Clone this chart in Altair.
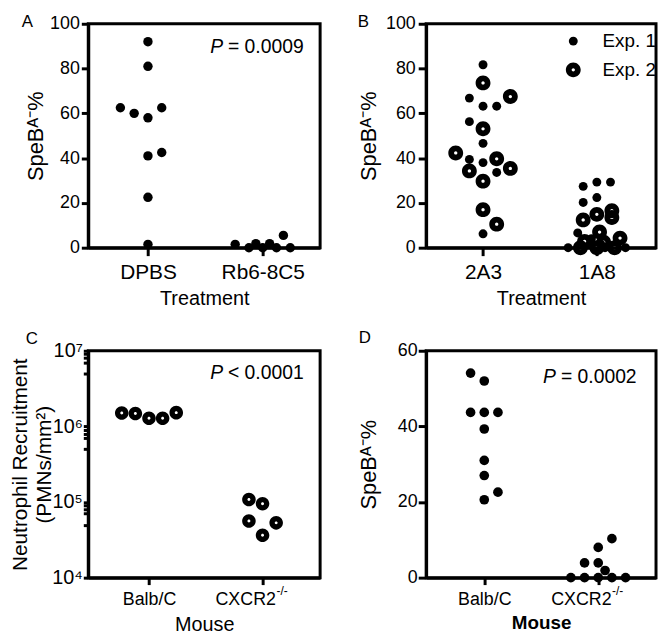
import altair as alt
import pandas as pd

FONT = "Liberation Sans"
SLOT = 0.12  # horizontal step between neighbouring dots, in category units

# ---------------- Panel A ----------------
a_cats = ["DPBS", "Rb6-8C5"]
a_group = ["DPBS"] * 10 + ["Rb6-8C5"] * 8
a_value = [92, 81, 62.5, 60, 58, 62.5, 41, 42.5, 22.5, 1.5,
           1.5, 0, 1.8, 0, 1.8, 0, 5.5, 0]
a_slot = [0, 0, -2, -1, 0, 1, 0, 1, 0, 0,
          -2, -1, -0.5, 0, 0.5, 1, 1.5, 2]
a_yticks = [0, 20, 40, 60, 80, 100]
a_ytitle = "SpeBᴬ⁻%"
a_xtitle = "Treatment"
a_p = ["P", "= 0.0009"]

# ---------------- Panel B ----------------
b_cats = ["2A3", "1A8"]
b_exps = ["Exp. 1", "Exp. 2"]
b_exp1_group = ["2A3"] * 10 + ["1A8"] * 11
b_exp1_value = [81.7, 66.8, 63.2, 63.2, 56.3, 46.6, 39.4, 38.0, 33.6, 6.2,
                29.3, 29.3, 27.4, 22.4, 20.2, 6.6, 0, 0, 4, 1.5, 0]
b_exp1_slot = [0, -1, 0, 1, -1, 0, -1, 0, 1, 0,
               0, 1, -1, 0, -1, -1.4, -2.1, 2.1, -0.4, 0.3, 0.6]
b_exp2_group = ["2A3"] * 10 + ["1A8"] * 11
b_exp2_value = [73.6, 67.5, 53.1, 42.3, 39.7, 35.4, 34.3, 29.7, 17.0, 10.5,
                16.5, 13.5, 14.9, 12.4, 7, 4.3, 2.8, 2.5, 0, 0, 0]
b_exp2_slot = [0, 2, 0, -2, 1, 2, -1, 0, 0, 1,
               1.1, 1.1, 0, -1, 0.2, 1.7, -0.9, 0.5, -1.2, 0, 1.3]
b_yticks = [0, 20, 40, 60, 80, 100]
b_ytitle = "SpeBᴬ⁻%"
b_xtitle = "Treatment"

# ---------------- Panel C ----------------
c_cats = ["Balb/C", "CXCR2"]
c_sup = "-/-"
c_group = ["Balb/C"] * 5 + ["CXCR2"] * 5
c_value = [1.50e6, 1.48e6, 1.28e6, 1.28e6, 1.52e6,
           1.08e5, 9.5e4, 5.6e4, 5.3e4, 3.64e4]
c_slot = [-2, -1, 0, 1, 2,
          -1, 0, -1, 1, 0]
c_major = [1e4, 1e5, 1e6, 1e7]
c_major_labels = ["10⁴", "10⁵", "10⁶", "10⁷"]
c_minor = [5e4, 7e4, 8e4, 9e4, 5e5, 7e5, 8e5, 9e5, 5e6, 7e6, 8e6, 9e6]
c_ytitle = ["Neutrophil Recruitment", "(PMNs/mm²)"]
c_xtitle = "Mouse"
c_p = ["P", "< 0.0001"]

# ---------------- Panel D ----------------
d_cats = ["Balb/C", "CXCR2"]
d_sup = "-/-"
d_group = ["Balb/C"] * 10 + ["CXCR2"] * 10
d_value = [54.1, 52.0, 43.7, 43.7, 43.7, 39.3, 31.0, 27.0, 22.6, 20.6,
           0, 0, 0, 0, 0, 3.9, 3.9, 1.9, 8.0, 10.3]
d_slot = [-1, 0, -1, 0, 1, 0, 0, 0, 1, 0,
          -2, -1, 0, 1, 2, -1, 0, 0.5, 0, 1]
d_yticks = [0, 20, 40, 60]
d_ytitle = "SpeBᴬ⁻%"
d_xtitle = "Mouse"
d_p = ["P", "= 0.0002"]

letters = ["A", "B", "C", "D"]

# layout (pixels)
W1, W2 = 234, 232
H1, H2 = 226, 229
COLSP, ROWSP = 107, 104

# ring symbol: unit circle with a small hole (opposite winding)
RING = ("M1,0C1,0.5523,0.5523,1,0,1C-0.5523,1,-1,0.5523,-1,0"
        "C-1,-0.5523,-0.5523,-1,0,-1C0.5523,-1,1,-0.5523,1,0Z"
        "M0.22,0C0.22,-0.1215,0.1215,-0.22,0,-0.22C-0.1215,-0.22,-0.22,-0.1215,-0.22,0"
        "C-0.22,0.1215,-0.1215,0.22,0,0.22C0.1215,0.22,0.22,0.1215,0.22,0Z")


def make_df(groups, values, slots, cats, exp=None):
    df = pd.DataFrame({"group": groups, "value": values, "slot": slots})
    df["pos"] = [cats.index(g) + 1 for g in groups]
    if exp is not None:
        df["exp"] = exp
    return df


def label_expr(cats):
    return f"datum.value == 1 ? '{cats[0]}' : '{cats[1]}'"


def text_layer(text, x, y, size=19.5, style="normal", weight="normal", align="left", baseline="middle"):
    return alt.Chart(alt.Data(values=[{"t": text}])).mark_text(
        font=FONT, fontSize=size, fontStyle=style, fontWeight=weight, align=align,
        baseline=baseline, color="black"
    ).encode(text="t:N", x=alt.value(x), y=alt.value(y))


def pvalue(parts, x, y):
    return [text_layer(parts[0], x, y, style="italic"),
            text_layer(parts[1], x + 18, y)]


calc = f"datum.pos + datum.slot * {SLOT}"

# ---------- A ----------
dfA = make_df(a_group, a_value, a_slot, a_cats)
xA = alt.X("xpos:Q", scale=alt.Scale(domain=[0.48, 2.5], nice=False, zero=False),
           axis=alt.Axis(values=[1, 2], labelExpr=label_expr(a_cats), title=a_xtitle,
                         tickSize=8, labelPadding=6, titlePadding=6, labelOverlap=False,
                         labelFontSize=21))
yA = alt.Y("value:Q", scale=alt.Scale(domain=[0, 100], nice=False, zero=False),
           axis=alt.Axis(values=a_yticks, title=a_ytitle, tickSize=7, labelPadding=2,
                         minExtent=38, maxExtent=38, titlePadding=3, labelOverlap=False,
                         titleFontSize=22))
ptsA = alt.Chart(dfA).transform_calculate(xpos=calc).mark_point(
    shape="circle", filled=True, size=90, color="black", opacity=1).encode(x=xA, y=yA)
panelA = alt.layer(ptsA, *pvalue(a_p, 123, 23),
                   text_layer(letters[0], -67, -10, size=17, baseline="top")).properties(width=W1, height=H1)

# ---------- B ----------
dfB = pd.concat([
    make_df(b_exp1_group, b_exp1_value, b_exp1_slot, b_cats, exp="Exp. 1"),
    make_df(b_exp2_group, b_exp2_value, b_exp2_slot, b_cats, exp="Exp. 2"),
], ignore_index=True)
# legends of a concatenated chart are placed relative to the first panel's origin
legB = alt.Legend(
    title=None, orient="none", legendX=W1 + COLSP + 139, legendY=8, labelFont=FONT,
    labelFontSize=19, labelColor="black", labelOffset=20, rowPadding=9,
    symbolFillColor="black", symbolStrokeWidth=0)
xB = alt.X("xpos:Q", scale=alt.Scale(domain=[0.5, 2.52], nice=False, zero=False),
           axis=alt.Axis(values=[1, 2], labelExpr=label_expr(b_cats), title=b_xtitle,
                         tickSize=8, labelPadding=6, titlePadding=6, labelOverlap=False,
                         labelFontSize=21))
yB = alt.Y("value:Q", scale=alt.Scale(domain=[0, 100], nice=False, zero=False),
           axis=alt.Axis(values=b_yticks, title=b_ytitle, tickSize=8, labelPadding=3,
                         minExtent=41, maxExtent=41, titlePadding=5, labelOverlap=False,
                         titleFontSize=22))
ptsB = alt.Chart(dfB).transform_calculate(xpos=calc).mark_point(
    filled=True, color="black", opacity=1, strokeWidth=0).encode(
    x=xB, y=yB,
    shape=alt.Shape("exp:N", scale=alt.Scale(domain=b_exps, range=["circle", RING]), legend=legB),
    size=alt.Size("exp:N", scale=alt.Scale(domain=b_exps, range=[81, 225]), legend=legB),
)
panelB = alt.layer(ptsB, text_layer(letters[1], -69, -10, size=17, baseline="top")).properties(width=W2, height=H1)

# ---------- C ----------
dfC = make_df(c_group, c_value, c_slot, c_cats)
c_expr = " : ".join(f"datum.value == {v:g} ? '{l}'" for v, l in zip(c_major, c_major_labels)) + " : ''"
cond_align = {"condition": {"test": "datum.value == 2", "value": "right"}, "value": "center"}
cond_off = {"condition": {"test": "datum.value == 2", "value": 13}, "value": 0}
xC = alt.X("xpos:Q", scale=alt.Scale(domain=[0.465, 2.507], nice=False, zero=False),
           axis=alt.Axis(values=[1, 2], labelExpr=label_expr(c_cats), title=c_xtitle,
                         tickSize=7, labelPadding=6, titlePadding=6, labelOverlap=False,
                         labelAlign=cond_align, labelOffset=cond_off))
yC = alt.Y("value:Q", scale=alt.Scale(type="log", domain=[1e4, 1e7], nice=False),
           axis=alt.Axis(values=sorted(c_major + c_minor), labelExpr=c_expr, title=c_ytitle,
                         tickSize=5, labelPadding=1, minExtent=33, maxExtent=33, titlePadding=1,
                         titleLineHeight=24, labelOverlap=False, labelFontSize=20,
                         titleFontSize=21))
ptsC = alt.Chart(dfC).transform_calculate(xpos=calc).mark_point(
    shape=RING, filled=True, color="black", strokeWidth=0, size=187, opacity=1).encode(x=xC, y=yC)
supC = alt.Chart(pd.DataFrame({"pos": [2], "t": [c_sup]})).mark_text(
    font=FONT, fontSize=12, align="left", baseline="top", dx=14, color="black").encode(
    x="pos:Q", y=alt.value(H2 + 9), text="t:N")
panelC = alt.layer(ptsC, supC, *pvalue(c_p, 123, 23),
                   text_layer(letters[2], -63, -20, size=17, baseline="top")).properties(width=W1, height=H2)

# ---------- D ----------
dfD = make_df(d_group, d_value, d_slot, d_cats)
xD = alt.X("xpos:Q", scale=alt.Scale(domain=[0.49, 2.507], nice=False, zero=False),
           axis=alt.Axis(values=[1, 2], labelExpr=label_expr(d_cats), title=d_xtitle,
                         tickSize=7, labelPadding=6, titlePadding=5, labelOverlap=False,
                         titleFontWeight="bold", titleFontSize=19,
                         labelAlign=cond_align, labelOffset=cond_off))
yD = alt.Y("value:Q", scale=alt.Scale(domain=[0, 60], nice=False, zero=False),
           axis=alt.Axis(values=d_yticks, title=d_ytitle, tickSize=8, labelPadding=1,
                         minExtent=31, maxExtent=31, titlePadding=15, labelOverlap=False,
                         titleFontSize=22))
ptsD = alt.Chart(dfD).transform_calculate(xpos=calc).mark_point(
    shape="circle", filled=True, size=95, color="black", opacity=1).encode(x=xD, y=yD)
supD = alt.Chart(pd.DataFrame({"pos": [2], "t": [d_sup]})).mark_text(
    font=FONT, fontSize=12, align="left", baseline="top", dx=14, color="black").encode(
    x="pos:Q", y=alt.value(H2 + 9), text="t:N")
panelD = alt.layer(ptsD, supD, *pvalue(d_p, 118, 27),
                   text_layer(letters[3], -68, -21, size=17, baseline="top")).properties(width=W2, height=H2)

chart = alt.concat(
    panelA, panelB, panelC, panelD, columns=2,
    spacing={"row": ROWSP, "column": COLSP}, bounds="flush", align="each",
).properties(
    padding=0
).configure_view(
    stroke="black", strokeWidth=3
).configure_axis(
    labelFont=FONT, titleFont=FONT, labelFontSize=18, titleFontSize=20,
    labelColor="black", titleColor="black", titleFontWeight="normal",
    domainColor="black", domainWidth=3, tickColor="black", tickWidth=3, grid=False
)

chart.save("out.html", embed_options={"renderer": "svg", "actions": False})
